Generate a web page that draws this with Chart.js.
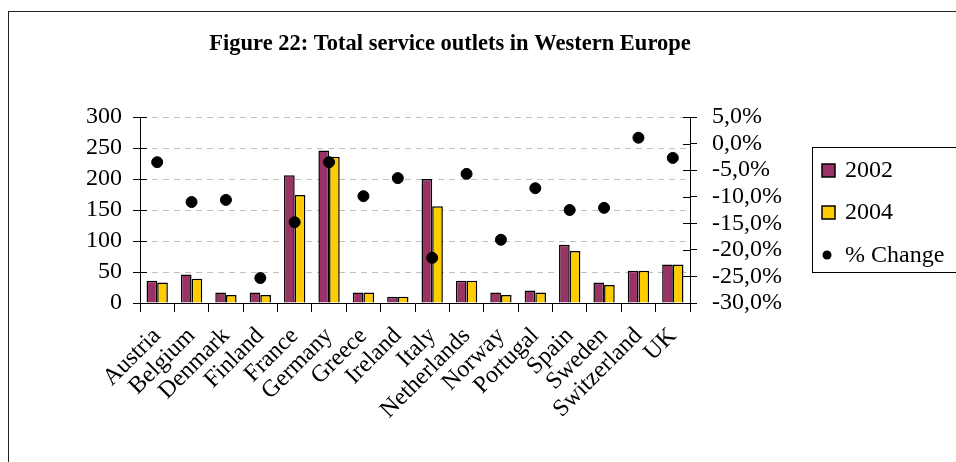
<!DOCTYPE html>
<html>
<head>
<meta charset="utf-8">
<script src="https://cdn.jsdelivr.net/npm/chart.js@4/dist/chart.umd.min.js"></script>
<style>
    body {margin: 0; background: #fff; overflow: hidden;}
    .wrap {position: relative; width: 956px; height: 462px; overflow: hidden;}
    .frame {position: absolute; left: 8px; top: 11px; width: 2000px; height: 2000px;
        border-left: 1.5px solid #222; border-top: 1.5px solid #222;}
    canvas {position: absolute; left: 0; top: 0;}
</style>
</head>
<body>
<div class="wrap">
    <div class="frame"></div>
    <canvas id="chart" width="956" height="462"></canvas>
</div>
<script>
const countries = ['Austria', 'Belgium', 'Denmark', 'Finland', 'France', 'Germany', 'Greece', 'Ireland',
    'Italy', 'Netherlands', 'Norway', 'Portugal', 'Spain', 'Sweden', 'Switzerland', 'UK']
const outlets2002 = [36, 46, 17, 17, 206, 246, 17, 10, 200, 36, 17, 20, 94, 33, 52, 62]
const outlets2004 = [33, 39, 13, 13, 174, 236, 17, 10, 156, 36, 13, 17, 84, 29, 52, 62]
const pctChange = [-3.5, -11.0, -10.6, -25.3, -14.8, -3.5, -9.9, -6.5, -21.5, -5.7, -18.1, -8.4, -12.5, -12.1, 1.1, -2.7]

const serif = '"Liberation Serif", "Times New Roman", serif'

// tick marks that cross the axis line + legend box
const extras = {
    id: 'extras',
    afterDraw(chart) {
        const ctx = chart.ctx
        const y = chart.scales.y
        const y1 = chart.scales.y1
        ctx.save()
        ctx.strokeStyle = '#000'
        ctx.lineWidth = 1
        ctx.beginPath()
        y.ticks.forEach((t, i) => {
            const py = Math.round(y.getPixelForTick(i)) + 0.5
            ctx.moveTo(y.right, py)
            ctx.lineTo(y.right + 7, py)
        })
        y1.ticks.forEach((t, i) => {
            const py = Math.round(y1.getPixelForTick(i)) + 0.5
            ctx.moveTo(y1.left, py)
            ctx.lineTo(y1.left - 7, py)
        })
        ctx.stroke()

        // legend
        ctx.lineWidth = 1
        ctx.strokeRect(812.5, 147.5, 160, 125)
        ctx.font = '24px ' + serif
        ctx.fillStyle = '#000'
        ctx.textBaseline = 'middle'
        const items = chart.data.datasets
        const rows = [170, 212, 255]
        items.forEach((ds, i) => {
            const cy = rows[i]
            if (ds.type === 'line') {
                ctx.beginPath()
                ctx.arc(827, cy, 4.5, 0, Math.PI * 2)
                ctx.fillStyle = '#000'
                ctx.fill()
            } else {
                ctx.fillStyle = ds.backgroundColor
                ctx.fillRect(822, cy - 6, 13, 13)
                ctx.lineWidth = 1.5
                ctx.strokeRect(822, cy - 6, 13, 13)
            }
            ctx.fillStyle = '#000'
            ctx.fillText(ds.label, 845, cy + 1)
        })
        ctx.restore()
    }
}

new Chart(document.getElementById('chart'), {
    type: 'bar',
    data: {
        labels: countries,
        datasets: [
            {
                label: '2002',
                data: outlets2002,
                backgroundColor: '#993366',
                borderColor: '#000',
                borderWidth: 1.5,
                yAxisID: 'y',
                categoryPercentage: 0.62,
                barPercentage: 1,
                order: 2
            },
            {
                label: '2004',
                data: outlets2004,
                backgroundColor: '#FFCC00',
                borderColor: '#000',
                borderWidth: 1.5,
                yAxisID: 'y',
                categoryPercentage: 0.62,
                barPercentage: 1,
                order: 2
            },
            {
                type: 'line',
                label: '% Change',
                data: pctChange,
                yAxisID: 'y1',
                showLine: false,
                pointRadius: 5.5,
                pointBackgroundColor: '#000',
                pointBorderColor: '#000',
                order: 1
            }
        ]
    },
    options: {
        responsive: false,
        animation: false,
        layout: {padding: {left: 0, right: 56, top: 0, bottom: 0}},
        plugins: {
            legend: {display: false},
            tooltip: {enabled: false},
            title: {
                display: true,
                text: 'Figure 22: Total service outlets in Western Europe',
                color: '#000',
                font: {family: serif, size: 22.5, weight: 'bold'},
                padding: {top: 31, bottom: 59}
            }
        },
        scales: {
            x: {
                offset: true,
                grid: {display: true, drawOnChartArea: false, drawTicks: true, tickLength: 9, tickColor: '#000', offset: true},
                border: {display: true, color: '#000', width: 1},
                ticks: {
                    color: '#000',
                    font: {family: serif, size: 24},
                    minRotation: 45,
                    maxRotation: 45,
                    autoSkip: false,
                    padding: 10
                },
                afterFit: scale => { scale.height = 159 }
            },
            y: {
                position: 'left',
                min: 0,
                max: 300,
                ticks: {stepSize: 50, autoSkip: false, color: '#000', font: {family: serif, size: 24}, padding: 11},
                grid: {color: '#c0c0c0', tickColor: '#000', tickLength: 7, lineWidth: 1},
                border: {display: true, color: '#000', width: 1, dash: [6, 5]},
                afterFit: scale => { scale.width = 140 }
            },
            y1: {
                position: 'right',
                min: -30,
                max: 5,
                ticks: {
                    stepSize: 5,
                    autoSkip: false,
                    color: '#000',
                    font: {family: serif, size: 24},
                    padding: 15,
                    callback: v => v.toFixed(1).replace('.', ',').replace('-0,0', '0,0') + '%'
                },
                grid: {drawOnChartArea: false, tickColor: '#000', tickLength: 7},
                border: {display: true, color: '#000', width: 1},
                afterFit: scale => { scale.width = 210 }
            }
        }
    },
    plugins: [extras]
})
</script>
</body>
</html>
